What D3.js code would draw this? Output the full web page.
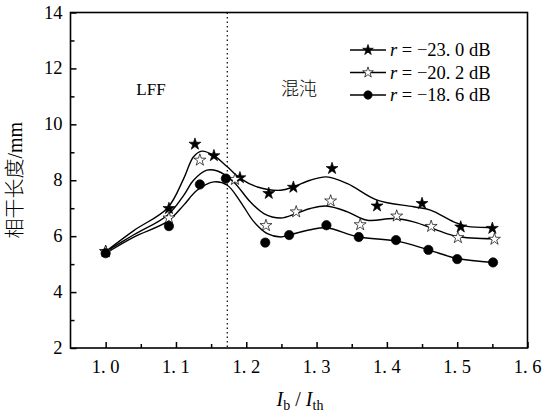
<html>
<head>
<meta charset="utf-8">
<script src="https://d3js.org/d3.v7.min.js"></script>
<style>
body { margin: 0; background: #fff; }
text { font-family: "Liberation Serif", "Times New Roman", serif; fill: #000; }
.cjk { font-family: "Noto Sans CJK SC", sans-serif; font-weight: 300; }
</style>
</head>
<body>
<svg width="545" height="417"></svg>
<script>

var starX   = [1.0, 1.09, 1.127, 1.154, 1.191, 1.232, 1.267, 1.322, 1.386, 1.45, 1.505, 1.55];
var starY   = [5.45, 6.99, 9.29, 8.88, 8.09, 7.53, 7.75, 8.42, 7.08, 7.17, 6.33, 6.28];
var openX   = [1.0, 1.09, 1.134, 1.184, 1.228, 1.271, 1.32, 1.362, 1.414, 1.463, 1.501, 1.553];
var openY   = [5.45, 6.65, 8.72, 8.03, 6.38, 6.87, 7.26, 6.41, 6.72, 6.35, 5.95, 5.89];
var dotX    = [1.0, 1.09, 1.134, 1.171, 1.227, 1.261, 1.314, 1.36, 1.413, 1.459, 1.5, 1.551];
var dotY    = [5.39, 6.36, 7.85, 8.06, 5.77, 6.04, 6.39, 5.97, 5.86, 5.51, 5.18, 5.06];

// fitted curves
var fitStarX = [1.0, 1.04, 1.088, 1.111, 1.125, 1.137, 1.154, 1.173, 1.192, 1.216, 1.249, 1.268, 1.291, 1.314, 1.344, 1.386, 1.438, 1.462, 1.495, 1.514, 1.552];
var fitStarY = [5.45, 6.2, 7.01, 8.06, 8.84, 9.04, 8.88, 8.48, 8.06, 7.76, 7.64, 7.77, 8.0, 8.12, 7.88, 7.29, 7.05, 6.93, 6.51, 6.35, 6.31];
var fitOpenX = [1.0, 1.04, 1.088, 1.111, 1.125, 1.144, 1.159, 1.182, 1.206, 1.225, 1.249, 1.271, 1.291, 1.314, 1.344, 1.372, 1.41, 1.438, 1.472, 1.5, 1.552];
var fitOpenY = [5.45, 6.05, 6.75, 7.46, 8.0, 8.36, 8.33, 7.94, 7.22, 6.81, 6.65, 6.81, 6.99, 7.08, 6.87, 6.57, 6.63, 6.51, 6.21, 5.99, 5.91];
var fitDotX  = [1.0, 1.04, 1.088, 1.111, 1.13, 1.154, 1.173, 1.192, 1.211, 1.23, 1.249, 1.261, 1.291, 1.314, 1.36, 1.413, 1.459, 1.5, 1.551];
var fitDotY  = [5.39, 5.97, 6.53, 7.11, 7.64, 7.94, 7.82, 7.22, 6.51, 6.09, 5.97, 6.04, 6.23, 6.3, 5.97, 5.83, 5.51, 5.2, 5.06];

var xTicks = [1.0, 1.1, 1.2, 1.3, 1.4, 1.5, 1.6];
var xTickLabels = ["1. 0", "1. 1", "1. 2", "1. 3", "1. 4", "1. 5", "1. 6"];
var yTicks = [2, 4, 6, 8, 10, 12, 14];
var legendLabels = ["\u221223. 0 dB", "\u221220. 2 dB", "\u221218. 6 dB"];
var boundaryX = 1.173;

var svg = d3.select("svg");
var x = d3.scaleLinear().domain([0.95, 1.6]).range([70.5, 527.5]);
var y = d3.scaleLinear().domain([2, 14]).range([348, 12.5]);

var zip = function (a, b) { return a.map(function (v, i) { return [v, b[i]]; }); };

var series = [
  {pts: zip(starX, starY), fit: zip(fitStarX, fitStarY), sym: d3.symbolStar, size: 44, fill: "#000"},
  {pts: zip(openX, openY), fit: zip(fitOpenX, fitOpenY), sym: d3.symbolStar, size: 44, fill: "#fff"},
  {pts: zip(dotX, dotY), fit: zip(fitDotX, fitDotY), sym: d3.symbolCircle, size: 68, fill: "#000"}
];

// axes: inward ticks, minor at the halves
var xAxis = d3.axisBottom(x).tickValues(xTicks).tickSize(-6).tickFormat("");
var xMinor = d3.axisBottom(x).tickValues(d3.range(1.05, 1.6, 0.1)).tickSize(-4).tickFormat("");
var yAxis = d3.axisLeft(y).tickValues(yTicks).tickSize(-6).tickFormat("");
var yMinor = d3.axisLeft(y).tickValues(d3.range(3, 14, 2)).tickSize(-4).tickFormat("");

[[xAxis, "translate(0," + y(2) + ")"], [xMinor, "translate(0," + y(2) + ")"],
 [yAxis, "translate(" + x(0.95) + ",0)"], [yMinor, "translate(" + x(0.95) + ",0)"]].forEach(function (a) {
  var g = svg.append("g").attr("transform", a[1]).call(a[0]);
  g.select(".domain").remove();
  g.selectAll("line").attr("stroke", "#000").attr("stroke-width", 1.5);
});

svg.append("rect")
  .attr("x", x(0.95)).attr("y", y(14))
  .attr("width", x(1.6) - x(0.95)).attr("height", y(2) - y(14))
  .attr("fill", "none").attr("stroke", "#000").attr("stroke-width", 1.6);

svg.selectAll("text.xt").data(xTicks).enter().append("text")
  .attr("class", "xt")
  .attr("x", function (d) { return x(d); })
  .attr("y", y(2) + 25)
  .attr("text-anchor", "middle")
  .style("font-size", "18.5px")
  .text(function (d, i) { return xTickLabels[i]; });

svg.selectAll("text.yt").data(yTicks).enter().append("text")
  .attr("class", "yt")
  .attr("x", x(0.95) - 8)
  .attr("y", function (d) { return y(d) + 6; })
  .attr("text-anchor", "end")
  .style("font-size", "18.5px")
  .text(function (d) { return d; });

// LFF / chaos boundary
svg.append("line")
  .attr("x1", x(boundaryX)).attr("x2", x(boundaryX))
  .attr("y1", y(14)).attr("y2", y(2))
  .attr("stroke", "#000").attr("stroke-width", 1.2)
  .attr("stroke-dasharray", "1.5,3");

svg.append("text").attr("x", 151).attr("y", 95)
  .attr("text-anchor", "middle").style("font-size", "17px").text("LFF");
svg.append("text").attr("class", "cjk").attr("x", 299).attr("y", 95)
  .attr("text-anchor", "middle").style("font-size", "18px").text("混沌");

var line = d3.line()
  .x(function (d) { return x(d[0]); })
  .y(function (d) { return y(d[1]); })
  .curve(d3.curveCatmullRom.alpha(0.5));

series.forEach(function (s) {
  svg.append("path").attr("d", line(s.fit))
    .attr("fill", "none").attr("stroke", "#000").attr("stroke-width", 1.4);
});

series.forEach(function (s) {
  svg.selectAll(null).data(s.pts).enter().append("path")
    .attr("transform", function (d) { return "translate(" + x(d[0]) + "," + y(d[1]) + ")"; })
    .attr("d", d3.symbol().type(s.sym).size(s.size))
    .attr("fill", s.fill).attr("stroke", "#000").attr("stroke-width", 0.7);
});

// legend
var legend = svg.append("g");
series.forEach(function (s, i) {
  var ly = 50 + i * 22.5;
  legend.append("line").attr("x1", 350).attr("x2", 386).attr("y1", ly).attr("y2", ly)
    .attr("stroke", "#000").attr("stroke-width", 1.4);
  legend.append("path").attr("transform", "translate(368," + ly + ")")
    .attr("d", d3.symbol().type(s.sym).size(s.size * 0.8))
    .attr("fill", s.fill).attr("stroke", "#000").attr("stroke-width", 0.7);
  var t = legend.append("text").attr("x", 390).attr("y", ly + 6).style("font-size", "18.5px");
  t.append("tspan").style("font-style", "italic").text("r");
  t.append("tspan").text(" = " + legendLabels[i]);
});

// axis titles
var yt = svg.append("text")
  .attr("transform", "translate(22," + y(8) + ") rotate(-90)")
  .attr("text-anchor", "middle").style("font-size", "20px");
yt.append("tspan").attr("class", "cjk").text("相干长度");
yt.append("tspan").text("/mm");

var xt = svg.append("text").attr("x", 300).attr("y", 406)
  .attr("text-anchor", "middle").style("font-size", "20px");
xt.append("tspan").style("font-style", "italic").text("I");
xt.append("tspan").attr("dy", 4).style("font-size", "14px").text("b");
xt.append("tspan").attr("dy", -4).text(" / ");
xt.append("tspan").style("font-style", "italic").text("I");
xt.append("tspan").attr("dy", 4).style("font-size", "14px").text("th");

</script>
</body>
</html>
